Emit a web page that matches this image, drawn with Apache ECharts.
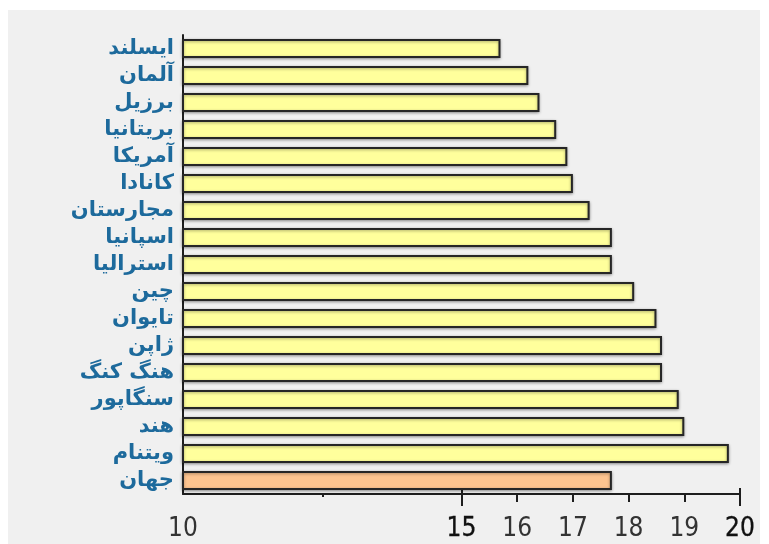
<!DOCTYPE html>
<html>
<head>
<meta charset="utf-8">
<script src="https://cdn.jsdelivr.net/npm/echarts@6/dist/echarts.min.js"></script>
<style>
  html, body { margin: 0; padding: 0; background: #ffffff; }
  #chart { width: 769px; height: 544px; }
</style>
</head>
<body>
<div id="chart"></div>
<script>
// Countries, top to bottom; the last row is the world average
const countries = ['ایسلند', 'آلمان', 'برزیل', 'بریتانیا', 'آمریکا', 'کانادا', 'مجارستان',
  'اسپانیا', 'استرالیا', 'چین', 'تایوان', 'ژاپن', 'هنگ کنگ', 'سنگاپور', 'هند', 'ویتنام', 'جهان'];
const values = [15.7, 16.2, 16.4, 16.7, 16.9, 17.0, 17.3,
  17.7, 17.7, 18.1, 18.5, 18.6, 18.6, 18.9, 19.0, 19.8, 17.7];
const highlighted = ['جهان'];

// Axis ticks and labels
const tickLabels = [10, 15, 16, 17, 18, 19, 20];
const darkLabels = [15, 20];
const smallTicks = [16, 17, 18, 19];
const longTicks = [15, 20];
const minorTicks = [12.5];

const AXIS_COLOR = '#1e1e1e';
const LABEL_FONT = '"DejaVu Sans Condensed", "Liberation Sans", sans-serif';

const chart = echarts.init(document.getElementById('chart'), null, { renderer: 'canvas' });

function baseX(extra) {
  return Object.assign({
    type: 'value', min: 10, max: 20, position: 'bottom',
    splitLine: { show: false },
    axisLine: { show: false },
    axisLabel: { show: false },
    axisTick: { show: false }
  }, extra);
}

chart.setOption({
  backgroundColor: '#ffffff',
  animation: false,
  graphic: [{
    type: 'rect', z: -10, silent: true,
    shape: { x: 8, y: 10, width: 752, height: 534 },
    style: { fill: '#f0f0f0' }
  }],
  grid: { left: 183, right: 29, top: 35, bottom: 50, containLabel: false },
  xAxis: [
    baseX({
      axisLine: { show: true, lineStyle: { color: AXIS_COLOR, width: 2 } },
      axisTick: { show: true, customValues: smallTicks, length: 8,
        lineStyle: { color: AXIS_COLOR, width: 2 } },
      axisLabel: {
        show: true, customValues: tickLabels, margin: 22,
        formatter: v => (darkLabels.includes(v) ? '{b|' + v + '}' : '{n|' + v + '}'),
        rich: {
          n: { fontFamily: LABEL_FONT, fontSize: 26, color: '#333333' },
          b: { fontFamily: LABEL_FONT, fontSize: 26, color: '#111111', textBorderColor: '#111111', textBorderWidth: 0.3 }
        }
      }
    }),
    baseX({
      axisTick: { show: true, customValues: longTicks, length: 12,
        lineStyle: { color: AXIS_COLOR, width: 2 } }
    }),
    baseX({
      axisTick: { show: true, inside: true, customValues: longTicks, length: 6,
        lineStyle: { color: AXIS_COLOR, width: 2 } }
    }),
    baseX({
      axisTick: { show: true, customValues: minorTicks, length: 3,
        lineStyle: { color: AXIS_COLOR, width: 2 } }
    })
  ],
  yAxis: {
    type: 'category',
    inverse: true,
    data: countries,
    axisLine: { show: true, lineStyle: { color: AXIS_COLOR, width: 2 } },
    axisTick: { show: false },
    axisLabel: {
      interval: 0,
      margin: 9,
      color: '#1d6a9c',
      fontFamily: '"DejaVu Sans", sans-serif',
      fontWeight: 'bold',
      fontSize: 21
    }
  },
  series: [{
    type: 'bar',
    xAxisIndex: 0,
    barWidth: 19,
    data: values.map((v, i) => ({
      value: v,
      itemStyle: {
        color: highlighted.includes(countries[i]) ? '#fdc48f' : '#ffff9c',
        borderColor: '#262626',
        borderWidth: 2,
        shadowColor: 'rgba(0,0,0,0.35)',
        shadowBlur: 3,
        shadowOffsetY: 1
      }
    }))
  }]
});
</script>
</body>
</html>
